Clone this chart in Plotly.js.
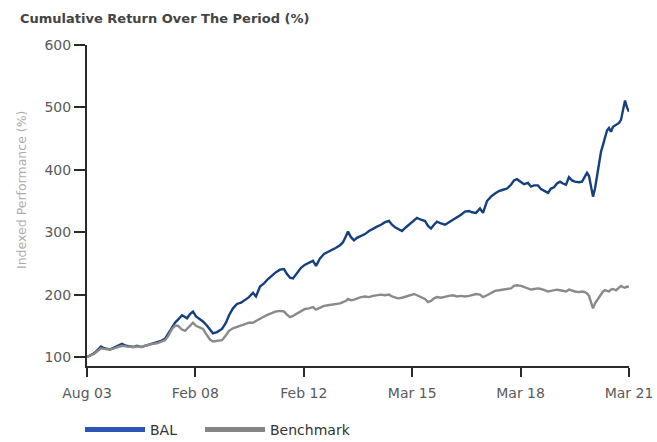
<!DOCTYPE html>
<html>
<head>
<meta charset="utf-8">
<script src="https://cdn.plot.ly/plotly-3.0.1.min.js"></script>
<style>html,body{margin:0;padding:0;background:#fff;}#chart{width:657px;height:442px;}</style>
</head>
<body>
<div id="chart"></div>
<script>
// Sample positions along the period (even spacing of the source's x axis)
const sampleIdx = [0,3,7,11,14,17,20,23,27,31,35,39,43,46,50,54,58,62,66,70,74,78,81,85,88,91,95,98,100,103,106,109,112,116,119,123,126,130,135,139,142,146,150,154,158,162,166,169,173,177,181,185,189,193,197,200,203,206,210,214,218,222,226,229,233,237,241,245,249,253,256,259,261,264,267,270,274,278,282,286,290,294,298,302,305,308,311,315,319,323,327,330,334,338,341,344,347,350,354,358,362,366,370,374,378,382,385,389,393,396,400,404,408,412,416,420,424,427,430,434,437,441,444,447,451,454,457,461,464,467,470,473,476,479,482,485,488,492,495,498,500,502,504,506,508,510,512,514,516,518,520,522,524,526,529,532,534,536,538,540,542];

const balValues = [100,103,106,112,117,114,113,112,115,118,121,118,117,116,118,116,118,120,122,123,126,129,137,148,155,160,167,164,162,169,173,165,162,157,152,143,138,140,145,155,167,178,185,187,191,196,203,197,213,218,225,231,236,240,241,233,227,226,235,243,248,251,254,246,258,265,268,272,275,279,284,294,301,292,287,291,294,297,302,306,309,312,316,318,312,308,305,302,308,314,320,323,320,318,310,306,312,317,314,312,316,320,323,328,333,334,332,331,338,331,350,357,362,366,368,370,376,383,385,381,377,379,373,375,375,369,366,363,370,372,378,381,378,376,388,383,381,380,381,389,395,390,375,357,370,389,410,429,440,451,463,467,461,469,472,475,480,497,511,500,493];

const benchmarkValues = [100,102,105,110,114,113,113,112,114,116,118,117,116,116,117,116,118,120,121,122,124,127,133,145,150,150,144,142,145,150,155,150,148,145,137,128,125,126,127,135,142,146,148,150,152,155,155,158,161,165,168,171,173,174,173,168,164,166,170,174,177,178,180,176,179,182,183,184,185,186,188,190,193,191,192,194,196,197,196,198,199,200,199,200,197,196,194,195,197,200,201,199,196,193,188,190,194,196,195,197,198,199,197,198,197,198,199,201,200,196,199,203,206,207,208,208,210,214,215,214,212,209,208,209,210,209,207,205,206,207,208,207,206,205,208,206,205,204,205,204,202,198,188,178,186,191,196,200,205,207,206,205,208,209,207,211,214,212,211,213,212];

const seriesNames = ['BAL', 'Benchmark'];
const xTickPositions = [0, 108.4, 216.8, 325.2, 433.6, 542];
const xTickLabels = ['Aug 03', 'Feb 08', 'Feb 12', 'Mar 15', 'Mar 18', 'Mar 21'];
const yTickValues = [100, 200, 300, 400, 500, 600];

const FONT = 'DejaVu Sans, Liberation Sans, Arial, sans-serif';

const traces = [
  {x: sampleIdx, y: balValues, type: 'scatter', mode: 'lines', name: seriesNames[0],
   line: {color: '#163f7d', width: 2.4}, showlegend: false, hoverinfo: 'skip'},
  {x: sampleIdx, y: benchmarkValues, type: 'scatter', mode: 'lines', name: seriesNames[1],
   line: {color: '#8a8a8a', width: 2.4}, showlegend: false, hoverinfo: 'skip'},
  {x: [null], y: [null], type: 'scatter', mode: 'lines', name: seriesNames[0],
   line: {color: '#2c55b6', width: 5}, showlegend: true, legend: 'legend'},
  {x: [null], y: [null], type: 'scatter', mode: 'lines', name: seriesNames[1],
   line: {color: '#858585', width: 5}, showlegend: true, legend: 'legend2'}
];

const axisCommon = {
  showline: true, linecolor: '#2a2a2a', linewidth: 2,
  ticks: 'outside', tickcolor: '#2a2a2a', tickwidth: 2,
  showgrid: false, zeroline: false, fixedrange: true,
  tickfont: {family: FONT, size: 14, color: '#5a5a5a'}
};

const legendCommon = {orientation: 'h', xref: 'container', yref: 'container',
  xanchor: 'left', y: 1 - 430/442, yanchor: 'middle',
  font: {family: FONT, size: 14, color: '#333'}, itemwidth: 60,
  bgcolor: 'rgba(0,0,0,0)', borderwidth: 0};

const layout = {
  width: 657, height: 442,
  margin: {l: 87, r: 28, t: 45, b: 76, pad: 0, autoexpand: false},
  paper_bgcolor: '#ffffff', plot_bgcolor: '#ffffff',
  title: {text: 'Cumulative Return Over The Period (%)', xref: 'container', yref: 'container',
          x: 20/657, xanchor: 'left', y: 1 - 18/442, yanchor: 'middle',
          font: {family: FONT, size: 13, weight: 'bold', color: '#444'}},
  xaxis: Object.assign({}, axisCommon, {range: [0, 542], tickmode: 'array',
          tickvals: xTickPositions, ticktext: xTickLabels, ticklen: 9, ticklabelstandoff: 4}),
  yaxis: Object.assign({}, axisCommon, {range: [85.6, 600], tickmode: 'array',
          tickvals: yTickValues, ticklen: 11}),
  showlegend: true,
  legend: Object.assign({}, legendCommon, {x: 80/657}),
  legend2: Object.assign({}, legendCommon, {x: 200/657}),
  annotations: [{text: 'Indexed Performance (%)', xref: 'paper', yref: 'paper',
                 x: (21-87)/542, y: (366-190)/321, xanchor: 'center', yanchor: 'middle',
                 textangle: -90, showarrow: false,
                 font: {family: FONT, size: 12.5, color: '#adadad'}}]
};

Plotly.newPlot('chart', traces, layout, {staticPlot: true, displayModeBar: false});
</script>
</body>
</html>
